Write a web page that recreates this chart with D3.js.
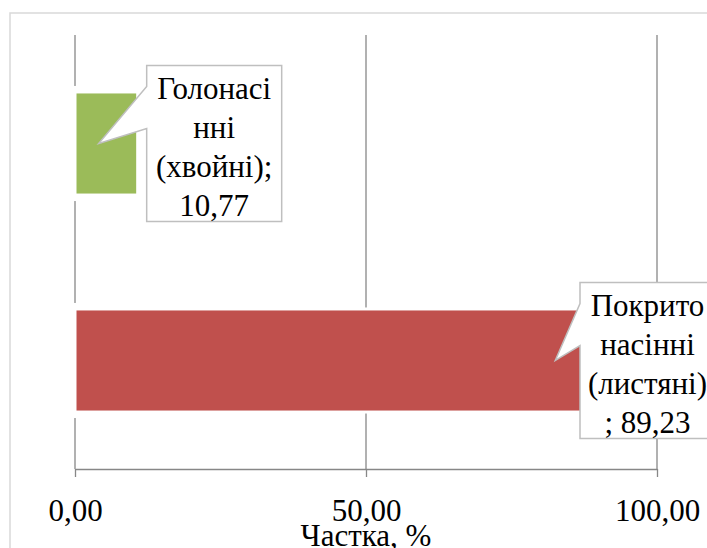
<!DOCTYPE html>
<html>
<head>
<meta charset="utf-8">
<script src="https://cdn.jsdelivr.net/npm/d3@7"></script>
<style>
  html, body { margin: 0; padding: 0; background: #ffffff; }
  svg { display: block; }
</style>
</head>
<body>
<svg id="chart" width="707" height="548"></svg>
<script>
// Species groups and their share of the stand, %
const categories = ["Голонасінні (хвойні)", "Покритонасінні (листяні)"];
const shares = [10.77, 89.23];
const barColors = ["#9BBB59", "#C0504D"];
const tickValues = [0, 50, 100];
const axisTitle = "Частка, %";

const serif = '"Liberation Serif"';
const svg = d3.select("#chart");
const fontSize = 31;
const lineHeight = 39;

// Number format with a decimal comma
const uaLocale = d3.formatLocale({ decimal: ",", thousands: " ", grouping: [3], currency: ["", " ₴"] });
const fmt = uaLocale.format(".2f");

const plot = { left: 75, right: 657, top: 35, bottom: 469 };
const chartRight = 715;

const x = d3.scaleLinear().domain([0, 100]).range([plot.left, plot.right]);
const y = d3.scaleBand().domain(categories).range([plot.top, plot.bottom])
  .paddingInner(0.525).paddingOuter(0.2625);

function styleText(sel) {
  return sel.style("font-family", serif).style("font-size", fontSize + "px").style("fill", "#000");
}

// Chart frame
svg.append("path")
  .attr("d", `M10,548 V13 H707`)
  .attr("fill", "none")
  .attr("stroke", "#d9d9d9")
  .attr("stroke-width", 1.5);

// Vertical gridlines
svg.append("g").selectAll("line")
  .data(tickValues)
  .join("line")
  .attr("x1", d => x(d)).attr("x2", d => x(d))
  .attr("y1", plot.top).attr("y2", plot.bottom)
  .attr("stroke", "#878787")
  .attr("stroke-width", 1.3);

// Axis with tick marks and labels
const axisG = svg.append("g")
  .attr("transform", `translate(0,${plot.bottom})`)
  .call(d3.axisBottom(x).tickValues(tickValues).tickFormat(fmt).tickSize(8).tickSizeOuter(0));
axisG.attr("font-family", null).attr("font-size", null);
axisG.select(".domain").attr("stroke", "#878787").attr("stroke-width", 1.3);
axisG.selectAll(".tick line").attr("stroke", "#878787").attr("stroke-width", 1.3);
axisG.selectAll(".tick text")
  .attr("y", 52).attr("dy", null).attr("fill", null)
  .call(styleText);

svg.append("text")
  .attr("x", x(50))
  .attr("y", 546)
  .attr("text-anchor", "middle")
  .call(styleText)
  .text(axisTitle);

const rows = categories.map((c, i) => ({ cat: c, value: shares[i], color: barColors[i] }));

// Light halo where each bar meets the zero gridline
svg.append("g").selectAll("rect")
  .data(rows)
  .join("rect")
  .attr("x", x(0) - 2)
  .attr("width", 4)
  .attr("y", d => y(d.cat) - 6)
  .attr("height", y.bandwidth() + 12)
  .attr("fill", "#ffffff");

// Bars
svg.append("g").selectAll("rect")
  .data(rows)
  .join("rect")
  .attr("x", x(0))
  .attr("y", d => y(d.cat))
  .attr("width", d => x(d.value) - x(0))
  .attr("height", y.bandwidth())
  .attr("fill", d => d.color)
  .attr("stroke", "#ffffff")
  .attr("stroke-width", 3);

// Wrap a label into lines no wider than maxW, breaking long words by characters
function wrapLabel(str, maxW) {
  const probe = svg.append("text").call(styleText);
  const measure = s => { probe.text(s); return probe.node().getComputedTextLength(); };
  const lines = [];
  let cur = "";
  str.split(" ").forEach(w => {
    const sep = cur ? " " : "";
    if (measure(cur + sep + w) <= maxW) { cur = cur + sep + w; return; }
    if (cur && measure(w) <= maxW) { lines.push(cur); cur = w; return; }
    if (cur) { lines.push(cur); cur = ""; }
    for (const ch of w) {
      if (measure(cur + ch) <= maxW) cur += ch;
      else { lines.push(cur); cur = ch; }
    }
  });
  if (cur) lines.push(cur);
  probe.remove();
  return lines;
}

// Callout data labels
const boxW = 135;
const labels = svg.append("g");
rows.forEach(d => {
  const text = `${d.cat}; ${fmt(d.value)}`;
  const lines = wrapLabel(text, 125);
  const boxH = lines.length * lineHeight;
  const cy = y(d.cat) + y.bandwidth() / 2;
  const end = x(d.value);
  const L = Math.min(end + 9, chartRight - boxW);
  const T = cy - boxH / 2;
  const tipX = end - 39, tipY = cy;
  const path = `M${L},${T} H${L + boxW} V${T + boxH} H${L} V${cy - 15} L${tipX},${tipY} L${L},${cy - 57} Z`;
  labels.append("path")
    .attr("d", path)
    .attr("fill", "#ffffff")
    .attr("stroke", "#bfbfbf")
    .attr("stroke-width", 1.5)
    .attr("stroke-linejoin", "miter");
  const t = labels.append("text")
    .attr("text-anchor", "middle")
    .call(styleText);
  lines.forEach((ln, i) => {
    t.append("tspan")
      .attr("x", L + boxW / 2)
      .attr("y", T + 33 + i * lineHeight)
      .text(ln);
  });
});
</script>
</body>
</html>
